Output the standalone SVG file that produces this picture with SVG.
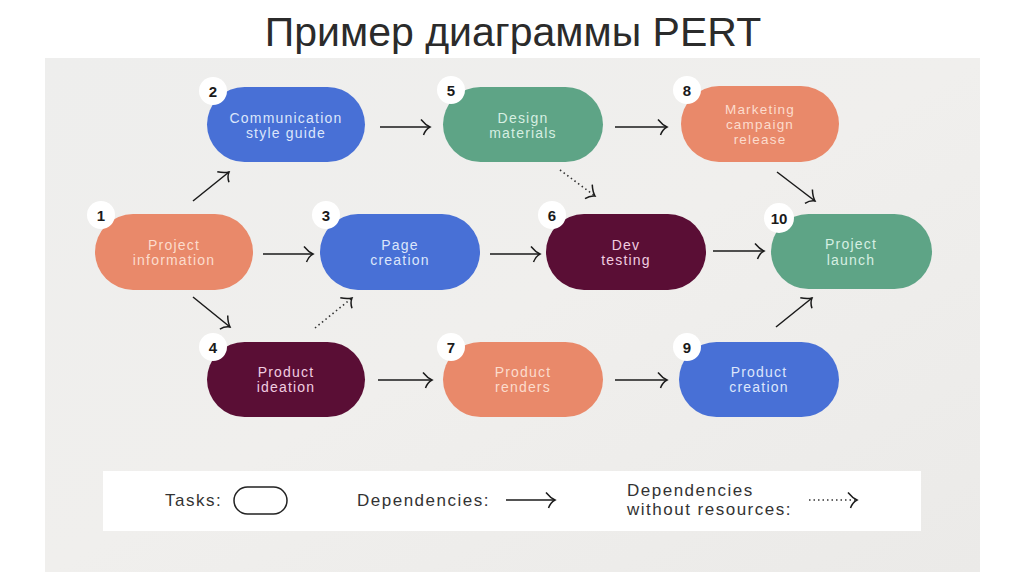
<svg xmlns="http://www.w3.org/2000/svg" width="1024" height="574" viewBox="0 0 1024 574">
<style>
.title{font-family:"Liberation Sans","Open Sans",sans-serif;font-size:41px;fill:#2b2b2b;}
.lbl{font-family:"Liberation Sans","Roboto",sans-serif;font-size:14px;letter-spacing:1.2px;text-anchor:middle;}
.lbl3{font-size:13.5px;}
.num{font-family:"Liberation Sans","Roboto",sans-serif;font-size:15px;font-weight:bold;text-anchor:middle;fill:#1a1a1a;}
.badge{fill:#ffffff;}
.orange{fill:#e9896a;}
.blue{fill:#4870d6;}
.green{fill:#5ea486;}
.maroon{fill:#5a0e35;}
.t-orange{fill:#fcdccd;}
.t-blue{fill:#dce6fb;}
.t-green{fill:#d6efe2;}
.t-maroon{fill:#f1cde0;}
.conn{stroke:#1a1a1a;stroke-width:1.5;fill:none;marker-end:url(#ah);}
.dot{stroke:#333;stroke-width:1.6;fill:none;stroke-dasharray:1.5 3;marker-end:url(#ah);}
.leg{font-family:"Liberation Sans","Open Sans",sans-serif;font-size:17px;letter-spacing:1.5px;fill:#333;}
</style>
<defs>
<marker id="ah" markerUnits="userSpaceOnUse" markerWidth="18" markerHeight="18" viewBox="0 0 18 18" refX="13" refY="9" orient="auto">
<path d="M4,1.5 Q8.5,7 13,9 Q8.5,11.5 6.5,17" stroke="#1a1a1a" stroke-width="1.5" fill="none"/>
</marker>
<linearGradient id="bg" x1="0" y1="0" x2="1" y2="1">
<stop offset="0" stop-color="#eeeeed"/>
<stop offset="0.5" stop-color="#f0efed"/>
<stop offset="1" stop-color="#ebeae8"/>
</linearGradient>
</defs>
<rect x="0" y="0" width="1024" height="574" fill="#ffffff"/>
<text class="title" x="513" y="46" text-anchor="middle">Пример диаграммы PERT</text>
<rect x="45" y="58" width="935" height="514" fill="url(#bg)"/>

<g id="connectors">
<line class="conn" x1="380" y1="127" x2="430" y2="127"/>
<line class="conn" x1="615" y1="127" x2="667" y2="127"/>
<line class="conn" x1="193" y1="201" x2="229" y2="172"/>
<line class="conn" x1="263" y1="254" x2="313" y2="254"/>
<line class="conn" x1="193" y1="297" x2="230" y2="327"/>
<line class="dot" x1="315" y1="328" x2="352" y2="298"/>
<line class="conn" x1="378" y1="380" x2="432" y2="380"/>
<line class="conn" x1="490" y1="254" x2="540" y2="254"/>
<line class="dot" x1="560" y1="170" x2="595" y2="196"/>
<line class="conn" x1="713" y1="251" x2="764" y2="251"/>
<line class="conn" x1="777" y1="172" x2="815" y2="201"/>
<line class="conn" x1="615" y1="380" x2="667" y2="380"/>
<line class="conn" x1="776" y1="327" x2="812" y2="298"/>
</g>

<g id="node1">
<rect class="orange" x="95" y="214" width="158" height="76" rx="38"/>
<circle class="badge" cx="101" cy="215" r="14"/>
<text class="num" x="101" y="220.5">1</text>
<text class="lbl t-orange" x="174" y="249.5">Project</text>
<text class="lbl t-orange" x="174" y="265.2">information</text>
</g>
<g id="node2">
<rect class="blue" x="207" y="87" width="158" height="75" rx="37.5"/>
<circle class="badge" cx="213" cy="91" r="14"/>
<text class="num" x="213" y="96.5">2</text>
<text class="lbl t-blue" x="286" y="122.5">Communication</text>
<text class="lbl t-blue" x="286" y="138.2">style guide</text>
</g>
<g id="node3">
<rect class="blue" x="320" y="214" width="160" height="76" rx="38"/>
<circle class="badge" cx="326" cy="215" r="14"/>
<text class="num" x="326" y="220.5">3</text>
<text class="lbl t-blue" x="400" y="249.5">Page</text>
<text class="lbl t-blue" x="400" y="265.2">creation</text>
</g>
<g id="node4">
<rect class="maroon" x="207" y="342" width="158" height="75" rx="37.5"/>
<circle class="badge" cx="213" cy="347" r="14"/>
<text class="num" x="213" y="352.5">4</text>
<text class="lbl t-maroon" x="286" y="376.5">Product</text>
<text class="lbl t-maroon" x="286" y="392.2">ideation</text>
</g>
<g id="node5">
<rect class="green" x="443" y="87" width="160" height="75" rx="37.5"/>
<circle class="badge" cx="451" cy="90" r="14"/>
<text class="num" x="451" y="95.5">5</text>
<text class="lbl t-green" x="523" y="122.5">Design</text>
<text class="lbl t-green" x="523" y="138.2">materials</text>
</g>
<g id="node6">
<rect class="maroon" x="546" y="214" width="160" height="76" rx="38"/>
<circle class="badge" cx="552" cy="215" r="14"/>
<text class="num" x="552" y="220.5">6</text>
<text class="lbl t-maroon" x="626" y="249.5">Dev</text>
<text class="lbl t-maroon" x="626" y="265.2">testing</text>
</g>
<g id="node7">
<rect class="orange" x="443" y="342" width="160" height="75" rx="37.5"/>
<circle class="badge" cx="451" cy="347" r="14"/>
<text class="num" x="451" y="352.5">7</text>
<text class="lbl t-orange" x="523" y="376.5">Product</text>
<text class="lbl t-orange" x="523" y="392.2">renders</text>
</g>
<g id="node8">
<rect class="orange" x="681" y="86" width="158" height="76" rx="38"/>
<circle class="badge" cx="687" cy="90" r="14"/>
<text class="num" x="687" y="95.5">8</text>
<text class="lbl lbl3 t-orange" x="760" y="113.8">Marketing</text>
<text class="lbl lbl3 t-orange" x="760" y="129">campaign</text>
<text class="lbl lbl3 t-orange" x="760" y="144.2">release</text>
</g>
<g id="node9">
<rect class="blue" x="679" y="342" width="160" height="75" rx="37.5"/>
<circle class="badge" cx="687" cy="347" r="14"/>
<text class="num" x="687" y="352.5">9</text>
<text class="lbl t-blue" x="759" y="376.5">Product</text>
<text class="lbl t-blue" x="759" y="392.2">creation</text>
</g>
<g id="node10">
<rect class="green" x="771" y="214" width="161" height="75" rx="37.5"/>
<circle class="badge" cx="779" cy="218" r="15"/>
<text class="num" x="779" y="223.5">10</text>
<text class="lbl t-green" x="851" y="249">Project</text>
<text class="lbl t-green" x="851" y="264.7">launch</text>
</g>

<g id="legend">
<rect x="103" y="471" width="818" height="60" fill="#ffffff"/>
<text class="leg" x="165" y="506">Tasks:</text>
<rect x="234" y="487" width="53" height="27" rx="13.5" fill="none" stroke="#222" stroke-width="1.5"/>
<text class="leg" x="357" y="506">Dependencies:</text>
<line class="conn" x1="506" y1="500" x2="555" y2="500"/>
<text class="leg" x="627" y="496">Dependencies</text>
<text class="leg" x="627" y="515">without resources:</text>
<line class="dot" x1="809" y1="500" x2="857" y2="500"/>
</g>
</svg>
